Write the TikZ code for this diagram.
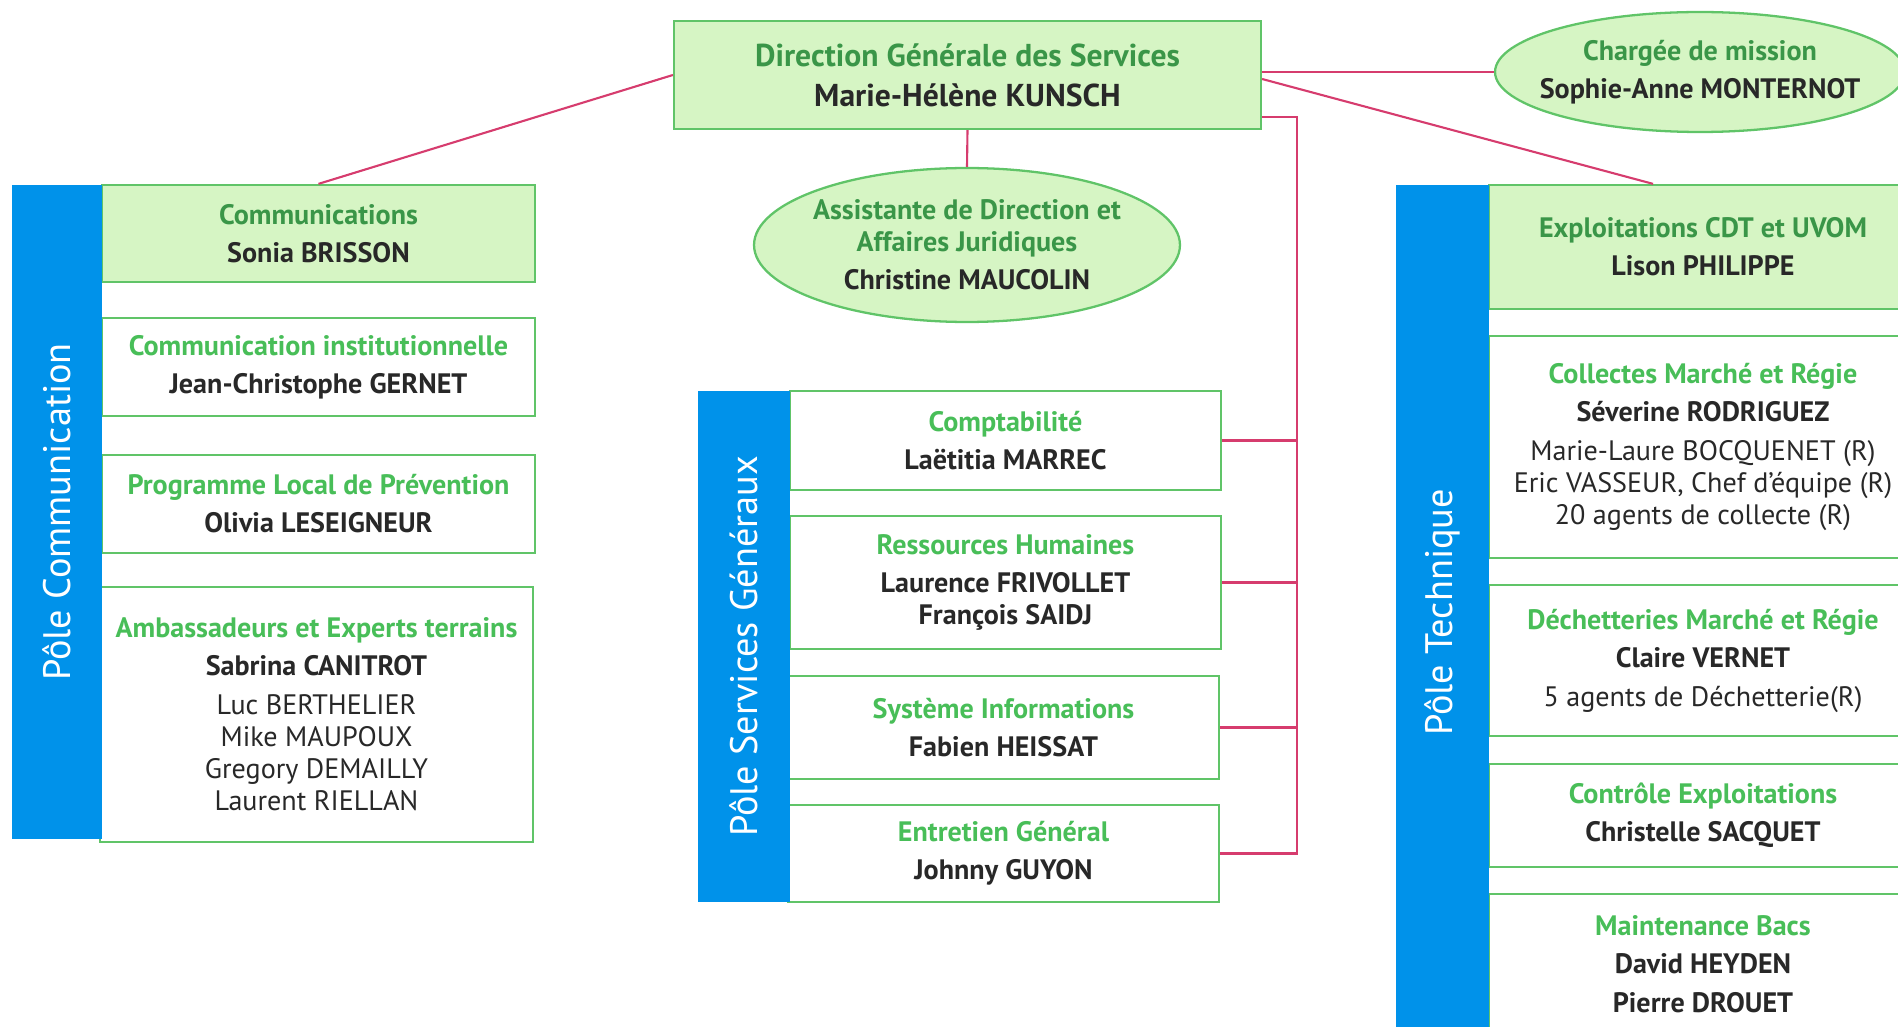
\documentclass[tikz,border=0pt]{standalone}
\usepackage{fontspec}
\setmainfont{PT Sans}
\usetikzlibrary{shapes.geometric}

\definecolor{lightgreen}{RGB}{214,245,196}
\definecolor{boxgreen}{RGB}{96,196,104}
\definecolor{titlegreen}{RGB}{72,190,88}
\definecolor{headgreen}{RGB}{58,150,72}
\definecolor{namegray}{RGB}{40,40,40}
\definecolor{poleblue}{RGB}{0,146,234}
\definecolor{linkpink}{RGB}{214,60,110}

\newcommand{\titre}[1]{\textcolor{titlegreen}{\bfseries #1}}
\newcommand{\entete}[1]{\textcolor{headgreen}{\bfseries #1}}
\newcommand{\chef}[1]{{\bfseries #1}}

\tikzset{
  unit/.style={draw=boxgreen, line width=1.3pt, fill=white, align=center, text=namegray,
    font=\fontsize{16}{18.2}\selectfont, inner sep=0pt},
  head/.style={unit, fill=lightgreen},
  headell/.style={head, ellipse},
  txt/.style={align=center, text=namegray, inner sep=0pt, font=\fontsize{16}{18.2}\selectfont},
  pole/.style={fill=poleblue, text=white, rotate=90, inner sep=0pt,
    font=\fontsize{21.8}{24}\selectfont},
  leftcol/.style={minimum width=8.66cm},
  midcol/.style={minimum width=8.62cm},
  rightcol/.style={minimum width=8.56cm},
  link/.style={draw=linkpink, line width=1.2pt},
}

\begin{document}
\begin{tikzpicture}[x=0.02cm, y=-0.02cm]
    \useasboundingbox (0,0) rectangle (1898,1027);
    \clip (0,0) rectangle (1898,1027);

    % Direction
    \node[head, minimum width=11.74cm, minimum height=2.16cm, font=\fontsize{18}{19.5}\selectfont] (dgs) at (967.5,75)
        {\entete{Direction Générale des Services}\\[3.4pt]\chef{Marie-Hélène KUNSCH}};
    \node[headell, minimum width=8.2cm, minimum height=2.4cm] (charge) at (1700,72) {};
    \node[txt] (chargetxt) at (charge.center)
        {\entete{Chargée de mission}\\[3.4pt]\chef{Sophie-Anne MONTERNOT}};
    \node[headell, minimum width=8.52cm, minimum height=3.08cm] (assist) at (967,245) {};
    \node[txt] (assisttxt) at (assist.center)
        {\entete{Assistante de Direction et}\\\entete{Affaires Juridiques}\\[3.4pt]\chef{Christine MAUCOLIN}};

    % Pole Communication
    \node[head, leftcol, minimum height=1.94cm] (comm) at (318.5,233.5)
        {\entete{Communications}\\[3.4pt]\chef{Sonia BRISSON}};
    \node[unit, leftcol, minimum height=1.96cm] (inst) at (318.5,367)
        {\titre{Communication institutionnelle}\\[3.4pt]\chef{Jean-Christophe GERNET}};
    \node[unit, leftcol, minimum height=1.96cm] (plp) at (318.5,504)
        {\titre{Programme Local de Prévention}\\[3.4pt]\chef{Olivia LESEIGNEUR}};
    \node[unit, leftcol, minimum height=5.1cm] (amb) at (316.5,714.5)
        {\titre{Ambassadeurs et Experts terrains}\\[3.4pt]\chef{Sabrina CANITROT}\\[4pt]
         Luc BERTHELIER\\Mike MAUPOUX\\Gregory DEMAILLY\\Laurent RIELLAN};
    \node[pole, minimum width=13.08cm, minimum height=1.8cm] (pcom) at (57,512) {Pôle Communication};

    % Pole Services Generaux
    \node[unit, midcol, minimum height=1.98cm] (compt) at (1005.5,440.5)
        {\titre{Comptabilité}\\[3.4pt]\chef{Laëtitia MARREC}};
    \node[unit, midcol, minimum height=2.66cm] (rh) at (1005.5,582.5)
        {\titre{Ressources Humaines}\\[3.4pt]\chef{Laurence FRIVOLLET}\\\chef{François SAIDJ}};
    \node[unit, midcol, minimum height=2.06cm] (si) at (1003.5,727.5)
        {\titre{Système Informations}\\[3.4pt]\chef{Fabien HEISSAT}};
    \node[unit, midcol, minimum height=1.94cm] (eg) at (1003.5,853.5)
        {\titre{Entretien Général}\\[3.4pt]\chef{Johnny GUYON}};
    \node[pole, minimum width=10.22cm, minimum height=1.84cm] (psg) at (744,646.5) {Pôle Services Généraux};

    % Pole Technique
    \node[head, rightcol, minimum height=2.48cm] (expl) at (1703,247)
        {\entete{Exploitations CDT et UVOM}\\[3.4pt]\chef{Lison PHILIPPE}};
    \node[unit, rightcol, minimum height=4.44cm] (coll) at (1703,447)
        {\titre{Collectes Marché et Régie}\\[3.4pt]\chef{Séverine RODRIGUEZ}\\[4pt]
         Marie-Laure BOCQUENET (R)\\Eric VASSEUR, Chef d'équipe (R)\\20 agents de collecte (R)};
    \node[unit, rightcol, minimum height=3.02cm] (dech) at (1703,660.5)
        {\titre{Déchetteries Marché et Régie}\\[3.4pt]\chef{Claire VERNET}\\[4pt]5 agents de Déchetterie(R)};
    \node[unit, rightcol, minimum height=2.06cm] (ctrl) at (1703,815.5)
        {\titre{Contrôle Exploitations}\\[3.4pt]\chef{Christelle SACQUET}};
    \node[unit, rightcol, minimum height=2.8cm] (maint) at (1703,964)
        {\titre{Maintenance Bacs}\\[3.4pt]\chef{David HEYDEN}\\[4pt]\chef{Pierre DROUET}};
    \node[pole, minimum width=17.1cm, minimum height=1.86cm] (ptech) at (1442.5,612.5) {Pôle Technique};

    % Links
    \draw[link] (dgs.west) -- (comm.north);
    \draw[link] (dgs.east |- charge.west) -- (charge.west);
    \draw[link] ([yshift=-0.08cm]dgs.east) -- ([xshift=-1cm]expl.north);
    \draw[link] (dgs.south) -- (assist.north);
    \coordinate (bus) at (1297,117);
    \draw[link] (dgs.east |- bus) -- (bus) -- (bus |- eg.east) -- (eg.east);
    \foreach \u in {compt,rh,si}
        \draw[link] (\u.east) -- (\u.east -| bus);

\end{tikzpicture}
\end{document}
